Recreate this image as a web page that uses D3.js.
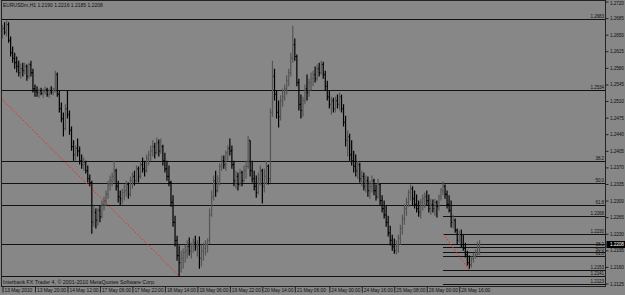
<!DOCTYPE html>
<html>
<head>
<meta charset="utf-8">
<script src="https://cdn.jsdelivr.net/npm/d3@7"></script>
<style>
    html, body { margin: 0; padding: 0; background: #878787; }
    svg { display: block; }
    text { font-family: "Liberation Sans", Arial, sans-serif; font-size: 5px; fill: #111; }
</style>
</head>
<body>
<script>
const symbolTitle = "EURUSDm,H1  1.2190 1.2216 1.2185 1.2208";
const copyrightText = "Interbank FX Trader 4, \u00a9 2001-2010 MetaQuotes Software Corp.";

const dateLabels = ["13 May 2010", "13 May 20:00", "14 May 12:00", "17 May 06:00", "17 May 22:00",
    "18 May 14:00", "19 May 06:00", "19 May 22:00", "20 May 14:00", "21 May 06:00",
    "24 May 00:00", "24 May 16:00", "25 May 08:00", "26 May 00:00", "26 May 16:00"];
const dateLabelBars = [0, 16, 32, 48, 64, 80, 96, 112, 128, 144, 161, 177, 193, 209, 225];

const priceTicks = ["1.2720", "1.2685", "1.2650", "1.2615", "1.2580", "1.2545", "1.2510", "1.2475", "1.2440",
    "1.2405", "1.2370", "1.2335", "1.2300", "1.2265", "1.2230", "1.2195", "1.2160", "1.2125"];

// H1 bars, EURUSD
const opens = [
    1.2650, 1.2663, 1.2655, 1.2671, 1.2638, 1.2612, 1.2600, 1.2591, 1.2583, 1.2570,
    1.2578, 1.2574, 1.2583, 1.2562, 1.2587, 1.2570, 1.2536, 1.2532, 1.2528, 1.2532,
    1.2526, 1.2530, 1.2534, 1.2524, 1.2532, 1.2528, 1.2536, 1.2566, 1.2524, 1.2494,
    1.2473, 1.2452, 1.2494, 1.2481, 1.2448, 1.2414, 1.2397, 1.2410, 1.2405, 1.2384,
    1.2376, 1.2380, 1.2363, 1.2346, 1.2338, 1.2254, 1.2275, 1.2258, 1.2279, 1.2266,
    1.2292, 1.2300, 1.2313, 1.2334, 1.2342, 1.2351, 1.2363, 1.2330, 1.2308, 1.2304,
    1.2317, 1.2321, 1.2334, 1.2313, 1.2342, 1.2351, 1.2342, 1.2367, 1.2351, 1.2376,
    1.2367, 1.2363, 1.2389, 1.2397, 1.2405, 1.2414, 1.2401, 1.2422, 1.2405, 1.2414,
    1.2384, 1.2367, 1.2351, 1.2338, 1.2296, 1.2254, 1.2216, 1.2184, 1.2169, 1.2178,
    1.2190, 1.2194, 1.2203, 1.2194, 1.2207, 1.2211, 1.2203, 1.2207, 1.2178, 1.2194,
    1.2199, 1.2207, 1.2216, 1.2270, 1.2308, 1.2342, 1.2321, 1.2346, 1.2372, 1.2384,
    1.2376, 1.2401, 1.2410, 1.2405, 1.2376, 1.2342, 1.2351, 1.2334, 1.2359, 1.2342,
    1.2363, 1.2372, 1.2427, 1.2363, 1.2346, 1.2330, 1.2317, 1.2346, 1.2363, 1.2330,
    1.2351, 1.2372, 1.2346, 1.2486, 1.2562, 1.2524, 1.2486, 1.2477, 1.2511, 1.2519,
    1.2536, 1.2553, 1.2570, 1.2600, 1.2629, 1.2604, 1.2549, 1.2503, 1.2490, 1.2511,
    1.2536, 1.2528, 1.2549, 1.2557, 1.2566, 1.2557, 1.2578, 1.2570, 1.2587, 1.2566,
    1.2541, 1.2519, 1.2503, 1.2511, 1.2494, 1.2511, 1.2503, 1.2519, 1.2494, 1.2465,
    1.2427, 1.2435, 1.2397, 1.2384, 1.2372, 1.2363, 1.2376, 1.2346, 1.2351, 1.2330,
    1.2342, 1.2321, 1.2330, 1.2342, 1.2321, 1.2308, 1.2334, 1.2300, 1.2283, 1.2270,
    1.2254, 1.2232, 1.2216, 1.2203, 1.2194, 1.2207, 1.2220, 1.2241, 1.2262, 1.2283,
    1.2296, 1.2317, 1.2325, 1.2304, 1.2292, 1.2283, 1.2275, 1.2296, 1.2304, 1.2308,
    1.2300, 1.2283, 1.2292, 1.2283, 1.2296, 1.2287, 1.2308, 1.2321, 1.2330, 1.2313,
    1.2292, 1.2279, 1.2254, 1.2258, 1.2237, 1.2216, 1.2228, 1.2207, 1.2199, 1.2186,
    1.2169, 1.2165, 1.2178, 1.2182, 1.2186, 1.2190];
const highs = [
    1.2671, 1.2676, 1.2680, 1.2676, 1.2646, 1.2625, 1.2612, 1.2604, 1.2595, 1.2589,
    1.2591, 1.2591, 1.2587, 1.2591, 1.2595, 1.2578, 1.2545, 1.2541, 1.2536, 1.2538,
    1.2536, 1.2541, 1.2538, 1.2536, 1.2541, 1.2538, 1.2574, 1.2570, 1.2532, 1.2507,
    1.2486, 1.2503, 1.2532, 1.2490, 1.2456, 1.2427, 1.2416, 1.2431, 1.2414, 1.2397,
    1.2391, 1.2384, 1.2374, 1.2355, 1.2342, 1.2289, 1.2283, 1.2285, 1.2289, 1.2300,
    1.2308, 1.2321, 1.2342, 1.2353, 1.2359, 1.2384, 1.2367, 1.2342, 1.2321, 1.2325,
    1.2334, 1.2342, 1.2338, 1.2351, 1.2359, 1.2363, 1.2374, 1.2372, 1.2384, 1.2391,
    1.2384, 1.2397, 1.2405, 1.2416, 1.2427, 1.2422, 1.2433, 1.2429, 1.2431, 1.2418,
    1.2401, 1.2384, 1.2374, 1.2342, 1.2311, 1.2268, 1.2226, 1.2205, 1.2194, 1.2199,
    1.2207, 1.2216, 1.2222, 1.2211, 1.2220, 1.2226, 1.2216, 1.2224, 1.2207, 1.2211,
    1.2216, 1.2220, 1.2283, 1.2321, 1.2353, 1.2363, 1.2353, 1.2378, 1.2395, 1.2395,
    1.2405, 1.2416, 1.2431, 1.2416, 1.2384, 1.2363, 1.2359, 1.2367, 1.2363, 1.2374,
    1.2384, 1.2437, 1.2427, 1.2384, 1.2363, 1.2353, 1.2359, 1.2374, 1.2367, 1.2367,
    1.2384, 1.2376, 1.2494, 1.2595, 1.2578, 1.2532, 1.2511, 1.2522, 1.2536, 1.2545,
    1.2564, 1.2578, 1.2612, 1.2669, 1.2642, 1.2608, 1.2557, 1.2524, 1.2519, 1.2545,
    1.2566, 1.2557, 1.2570, 1.2574, 1.2583, 1.2587, 1.2591, 1.2595, 1.2593, 1.2574,
    1.2553, 1.2532, 1.2519, 1.2517, 1.2519, 1.2524, 1.2528, 1.2524, 1.2503, 1.2479,
    1.2448, 1.2441, 1.2427, 1.2405, 1.2397, 1.2384, 1.2380, 1.2363, 1.2359, 1.2353,
    1.2351, 1.2342, 1.2353, 1.2346, 1.2334, 1.2346, 1.2336, 1.2311, 1.2300, 1.2289,
    1.2268, 1.2247, 1.2228, 1.2220, 1.2216, 1.2228, 1.2249, 1.2270, 1.2292, 1.2306,
    1.2323, 1.2334, 1.2330, 1.2321, 1.2313, 1.2300, 1.2304, 1.2313, 1.2317, 1.2321,
    1.2313, 1.2304, 1.2302, 1.2304, 1.2300, 1.2313, 1.2327, 1.2340, 1.2334, 1.2321,
    1.2311, 1.2300, 1.2270, 1.2262, 1.2241, 1.2237, 1.2239, 1.2228, 1.2211, 1.2194,
    1.2184, 1.2182, 1.2190, 1.2197, 1.2213, 1.2216];
const lows = [
    1.2642, 1.2650, 1.2646, 1.2633, 1.2604, 1.2591, 1.2578, 1.2570, 1.2562, 1.2557,
    1.2562, 1.2566, 1.2553, 1.2557, 1.2562, 1.2528, 1.2519, 1.2519, 1.2517, 1.2522,
    1.2517, 1.2524, 1.2519, 1.2517, 1.2524, 1.2522, 1.2528, 1.2519, 1.2486, 1.2465,
    1.2435, 1.2448, 1.2473, 1.2439, 1.2405, 1.2384, 1.2384, 1.2393, 1.2376, 1.2367,
    1.2363, 1.2357, 1.2338, 1.2330, 1.2230, 1.2245, 1.2241, 1.2247, 1.2254, 1.2262,
    1.2279, 1.2289, 1.2304, 1.2321, 1.2330, 1.2338, 1.2321, 1.2296, 1.2289, 1.2292,
    1.2300, 1.2308, 1.2304, 1.2308, 1.2325, 1.2332, 1.2338, 1.2338, 1.2346, 1.2359,
    1.2351, 1.2359, 1.2374, 1.2384, 1.2393, 1.2389, 1.2397, 1.2393, 1.2399, 1.2374,
    1.2359, 1.2342, 1.2330, 1.2287, 1.2245, 1.2203, 1.2173, 1.2140, 1.2148, 1.2156,
    1.2169, 1.2178, 1.2184, 1.2178, 1.2190, 1.2194, 1.2182, 1.2156, 1.2161, 1.2173,
    1.2184, 1.2190, 1.2209, 1.2266, 1.2300, 1.2308, 1.2317, 1.2332, 1.2363, 1.2367,
    1.2363, 1.2384, 1.2395, 1.2367, 1.2330, 1.2325, 1.2321, 1.2330, 1.2330, 1.2338,
    1.2346, 1.2367, 1.2351, 1.2338, 1.2321, 1.2306, 1.2313, 1.2332, 1.2294, 1.2317,
    1.2334, 1.2334, 1.2338, 1.2477, 1.2511, 1.2473, 1.2454, 1.2469, 1.2498, 1.2511,
    1.2524, 1.2541, 1.2562, 1.2591, 1.2595, 1.2541, 1.2490, 1.2473, 1.2477, 1.2503,
    1.2511, 1.2519, 1.2532, 1.2541, 1.2549, 1.2553, 1.2562, 1.2566, 1.2557, 1.2532,
    1.2511, 1.2494, 1.2481, 1.2486, 1.2486, 1.2494, 1.2490, 1.2486, 1.2456, 1.2414,
    1.2393, 1.2384, 1.2374, 1.2359, 1.2351, 1.2346, 1.2338, 1.2330, 1.2321, 1.2317,
    1.2308, 1.2304, 1.2317, 1.2311, 1.2300, 1.2304, 1.2289, 1.2275, 1.2262, 1.2245,
    1.2224, 1.2205, 1.2194, 1.2188, 1.2186, 1.2190, 1.2207, 1.2228, 1.2249, 1.2268,
    1.2287, 1.2300, 1.2289, 1.2283, 1.2275, 1.2266, 1.2262, 1.2279, 1.2285, 1.2289,
    1.2275, 1.2270, 1.2275, 1.2268, 1.2264, 1.2279, 1.2300, 1.2311, 1.2304, 1.2283,
    1.2275, 1.2243, 1.2241, 1.2232, 1.2207, 1.2211, 1.2201, 1.2194, 1.2180, 1.2163,
    1.2156, 1.2159, 1.2169, 1.2178, 1.2184, 1.2185];
const closes = [
    1.2663, 1.2655, 1.2671, 1.2638, 1.2612, 1.2600, 1.2591, 1.2583, 1.2570, 1.2578,
    1.2574, 1.2583, 1.2562, 1.2587, 1.2570, 1.2536, 1.2532, 1.2528, 1.2532, 1.2526,
    1.2530, 1.2534, 1.2524, 1.2532, 1.2528, 1.2536, 1.2566, 1.2524, 1.2494, 1.2473,
    1.2452, 1.2494, 1.2481, 1.2448, 1.2414, 1.2397, 1.2410, 1.2405, 1.2384, 1.2376,
    1.2380, 1.2363, 1.2346, 1.2338, 1.2254, 1.2275, 1.2258, 1.2279, 1.2266, 1.2292,
    1.2300, 1.2313, 1.2334, 1.2342, 1.2351, 1.2363, 1.2330, 1.2308, 1.2304, 1.2317,
    1.2321, 1.2334, 1.2313, 1.2342, 1.2351, 1.2342, 1.2367, 1.2351, 1.2376, 1.2367,
    1.2363, 1.2389, 1.2397, 1.2405, 1.2414, 1.2401, 1.2422, 1.2405, 1.2414, 1.2384,
    1.2367, 1.2351, 1.2338, 1.2296, 1.2254, 1.2216, 1.2184, 1.2169, 1.2178, 1.2190,
    1.2194, 1.2203, 1.2194, 1.2207, 1.2211, 1.2203, 1.2207, 1.2178, 1.2194, 1.2199,
    1.2207, 1.2216, 1.2270, 1.2308, 1.2342, 1.2321, 1.2346, 1.2372, 1.2384, 1.2376,
    1.2401, 1.2410, 1.2405, 1.2376, 1.2342, 1.2351, 1.2334, 1.2359, 1.2342, 1.2363,
    1.2372, 1.2427, 1.2363, 1.2346, 1.2330, 1.2317, 1.2346, 1.2363, 1.2330, 1.2351,
    1.2372, 1.2346, 1.2486, 1.2562, 1.2524, 1.2486, 1.2477, 1.2511, 1.2519, 1.2536,
    1.2553, 1.2570, 1.2600, 1.2629, 1.2604, 1.2549, 1.2503, 1.2490, 1.2511, 1.2536,
    1.2528, 1.2549, 1.2557, 1.2566, 1.2557, 1.2578, 1.2570, 1.2587, 1.2566, 1.2541,
    1.2519, 1.2503, 1.2511, 1.2494, 1.2511, 1.2503, 1.2519, 1.2494, 1.2465, 1.2427,
    1.2435, 1.2397, 1.2384, 1.2372, 1.2363, 1.2376, 1.2346, 1.2351, 1.2330, 1.2342,
    1.2321, 1.2330, 1.2342, 1.2321, 1.2308, 1.2334, 1.2300, 1.2283, 1.2270, 1.2254,
    1.2232, 1.2216, 1.2203, 1.2194, 1.2207, 1.2220, 1.2241, 1.2262, 1.2283, 1.2296,
    1.2317, 1.2325, 1.2304, 1.2292, 1.2283, 1.2275, 1.2296, 1.2304, 1.2308, 1.2300,
    1.2283, 1.2292, 1.2283, 1.2296, 1.2287, 1.2308, 1.2321, 1.2330, 1.2313, 1.2292,
    1.2279, 1.2254, 1.2258, 1.2237, 1.2216, 1.2228, 1.2207, 1.2199, 1.2186, 1.2169,
    1.2165, 1.2178, 1.2182, 1.2186, 1.2190, 1.2208];

// horizontal lines across the whole chart
const lineLevels = [1.2683, 1.2534, 1.2141];
const lineLabels = ["1.2683", "1.2534", "1.2141"];
// first fibo (anchor off screen on the left)
const fibOneBase = [[-5, 1.2534], [87, 1.2141]];
const fibOneLevels = [1.2384, 1.2338, 1.2291];
const fibOneLabels = ["38.2", "50.0", "61.8"];
// second fibo
const fibTwoBase = [[217, 1.2230], [230, 1.2153]];
const fibTwoLevels = [1.2268, 1.2230, 1.2201, 1.2192, 1.2182, 1.2153, 1.2123];
const fibTwoLabels = ["1.2268", "1.2230", "38.2", "50.0", "61.8", "1.2153", "1.2123"];

class MtChart {
    constructor({
        width = 625,
        height = 295,
        plotLeft = 1.5,
        plotTop = 0.5,
        plotRight = 605.5,
        plotBottom = 286.5,
        barStep = 2.03,
        upColor = "#555555",
        downColor = "#000000",
        lineColor = "#111111",
        fiboColor = "#ff2020",
    }) {
        this.width = width;
        this.height = height;
        this.plotLeft = plotLeft;
        this.plotTop = plotTop;
        this.plotRight = plotRight;
        this.plotBottom = plotBottom;
        this.barStep = barStep;
        this.upColor = upColor;
        this.downColor = downColor;
        this.lineColor = lineColor;
        this.fiboColor = fiboColor;

        const n = closes.length;
        this.x = d3.scaleLinear()
            .domain([0, n - 1])
            .range([2.5, 2.5 + (n - 1) * barStep]);
        const ticks = priceTicks.map(Number);
        this.y = d3.scaleLinear()
            .domain([d3.min(ticks), d3.max(ticks)])
            .range([283.5, 1.5]);
    }

    draw() {
        this._drawSvgContainer();
        this._drawLevels();
        this._drawFiboBase(fibOneBase);
        this._drawFiboBase(fibTwoBase);
        this._drawBars();
        this._drawFrame();
        this._drawPriceAxis();
        this._drawTimeAxis();
        this._drawTexts();
    }

    _drawSvgContainer() {
        this.svg = d3.select("body")
            .append("svg")
            .attr("width", this.width)
            .attr("height", this.height);
        this.svg.append("defs")
            .append("clipPath")
            .attr("id", "plot-clip")
            .append("rect")
            .attr("x", this.plotLeft)
            .attr("y", this.plotTop)
            .attr("width", this.plotRight - this.plotLeft)
            .attr("height", this.plotBottom - this.plotTop);
        this.plot = this.svg.append("g").attr("clip-path", "url(#plot-clip)");
    }

    _drawFrame() {
        this.svg.append("rect")
            .attr("x", this.plotLeft)
            .attr("y", this.plotTop)
            .attr("width", this.plotRight - this.plotLeft)
            .attr("height", this.plotBottom - this.plotTop)
            .style("fill", "none")
            .style("stroke", "#222")
            .style("stroke-width", "1px");
    }

    _hLine(g, price, x0, label, width) {
        const y = Math.round(this.y(price)) + 0.5;
        g.append("line")
            .attr("x1", x0).attr("x2", this.plotRight)
            .attr("y1", y).attr("y2", y)
            .style("stroke", this.lineColor)
            .style("stroke-width", width);
        if (label) {
            g.append("text")
                .attr("x", this.plotRight - 1.5)
                .attr("y", y - 1.2)
                .attr("text-anchor", "end")
                .style("font-size", "4.6px")
                .style("letter-spacing", "-0.1px")
                .text(label);
        }
    }

    _drawLevels() {
        const g = this.plot.append("g").attr("class", "levels");
        lineLevels.forEach((p, i) => this._hLine(g, p, this.plotLeft, lineLabels[i], 1.2));
        fibOneLevels.forEach((p, i) => this._hLine(g, p, this.plotLeft, fibOneLabels[i], 1.2));
        const start = this.x(fibTwoBase[0][0]);
        fibTwoLevels.forEach((p, i) => this._hLine(g, p, start, fibTwoLabels[i], 1.2));
        // bid line
        this._hLine(g, closes[closes.length - 1], this.plotLeft, null, 1);
    }

    _drawFiboBase(base) {
        this.plot.append("line")
            .attr("x1", this.x(base[0][0])).attr("y1", this.y(base[0][1]))
            .attr("x2", this.x(base[1][0])).attr("y2", this.y(base[1][1]))
            .style("stroke", this.fiboColor)
            .style("stroke-width", "1px")
            .style("stroke-dasharray", "1.5,1.8");
    }

    _drawBars() {
        const x = this.x, y = this.y;
        this.plot.append("g")
            .attr("class", "bars")
            .selectAll("path")
            .data(d3.range(closes.length))
            .enter()
            .append("path")
            .attr("d", i => {
                const cx = x(i);
                return "M" + cx + "," + y(highs[i]) + "V" + y(lows[i])
                    + "M" + (cx - 1) + "," + y(opens[i]) + "H" + cx
                    + "M" + cx + "," + y(closes[i]) + "H" + (cx + 1);
            })
            .style("fill", "none")
            .style("stroke", i => closes[i] >= opens[i] ? this.upColor : this.downColor)
            .style("stroke-width", "1.2px");
    }

    _drawPriceAxis() {
        const axis = d3.axisRight(this.y)
            .tickValues(priceTicks.map(Number))
            .tickFormat((d, i) => priceTicks[i])
            .tickSize(3)
            .tickPadding(1.5);
        const g = this.svg.append("g")
            .attr("class", "price-axis")
            .attr("transform", "translate(" + this.plotRight + ",0)")
            .call(axis);
        g.select(".domain").remove();
        g.selectAll("line").style("stroke", "#222");
        g.selectAll("text")
            .attr("font-size", null)
            .attr("font-family", null)
            .style("font-size", "4.8px")
            .style("letter-spacing", "-0.15px")
            .style("fill", "#111");
        // keep the top label inside the picture
        g.selectAll(".tick").filter((d, i) => i === 0).select("text").attr("dy", "0.6em");

        // current price marker
        const last = closes[closes.length - 1];
        const yl = Math.round(this.y(last)) + 0.5;
        const tag = this.svg.append("g").attr("class", "bid-tag");
        tag.append("rect")
            .attr("x", this.plotRight + 1)
            .attr("y", yl - 3.5)
            .attr("width", this.width - this.plotRight - 1)
            .attr("height", 7)
            .style("fill", "#000");
        tag.append("text")
            .attr("x", this.plotRight + 4.5)
            .attr("y", yl + 1.7)
            .style("fill", "#fff")
            .style("font-size", "4.8px")
            .style("letter-spacing", "-0.15px")
            .text(last.toFixed(4));
    }

    _drawTimeAxis() {
        const axis = d3.axisBottom(this.x)
            .tickValues(dateLabelBars)
            .tickFormat((d, i) => dateLabels[i])
            .tickSize(6)
            .tickPadding(0);
        const g = this.svg.append("g")
            .attr("class", "time-axis")
            .attr("transform", "translate(0," + this.plotBottom + ")")
            .call(axis);
        g.select(".domain").remove();
        g.selectAll("line").style("stroke", "#222");
        g.selectAll("text")
            .attr("font-size", null)
            .attr("font-family", null)
            .attr("text-anchor", "start")
            .attr("x", 1.5)
            .attr("y", 2.2)
            .attr("dy", "0.71em")
            .style("font-size", "4.9px")
            .style("letter-spacing", "-0.05px")
            .style("fill", "#111");
    }

    _drawTexts() {
        this.svg.append("text")
            .attr("x", 3)
            .attr("y", 7)
            .style("font-size", "5px")
            .text(symbolTitle);
        this.svg.append("text")
            .attr("x", 3)
            .attr("y", 284.2)
            .style("font-size", "5.3px")
            .text(copyrightText);
    }
}

new MtChart({}).draw();
</script>
</body>
</html>
